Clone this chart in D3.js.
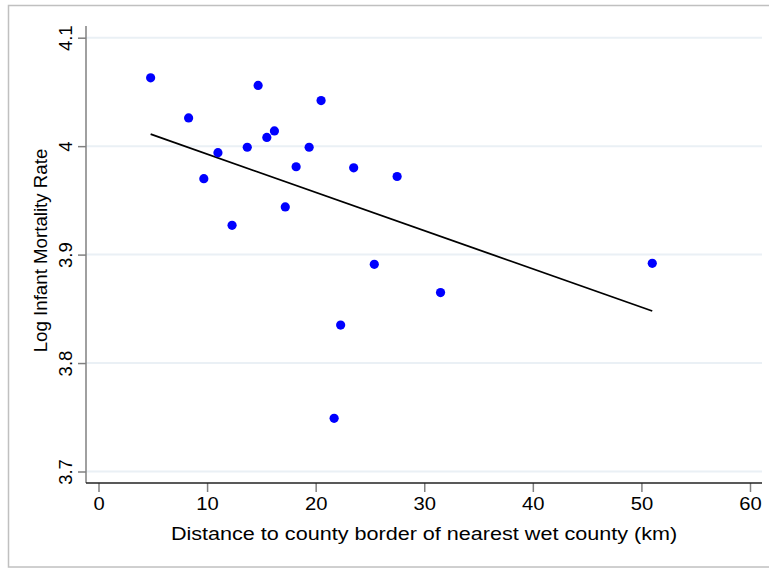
<!DOCTYPE html>
<html><head><meta charset="utf-8">
<script src="https://cdn.jsdelivr.net/npm/d3@7"></script>
<style>html,body{margin:0;padding:0;background:#fff;}svg{display:block;}</style>
</head><body>
<svg id="chart" width="769" height="568"></svg>
<script>
const distKm = [4.8, 8.3, 9.7, 11.0, 12.3, 13.7, 14.7, 15.5, 16.2, 17.2, 18.2, 19.4, 20.5, 21.7, 22.3, 23.5, 25.4, 27.5, 31.5, 51.0];
const logIMR = [4.063, 4.026, 3.970, 3.994, 3.927, 3.999, 4.056, 4.008, 4.014, 3.944, 3.981, 3.999, 4.042, 3.749, 3.835, 3.980, 3.891, 3.972, 3.865, 3.892];
const fitX = [4.8, 51.0];
const fitY = [4.011, 3.848];
const xTicks = [0, 10, 20, 30, 40, 50, 60];
const yTicks = [3.7, 3.8, 3.9, 4.0, 4.1];
const xTitle = "Distance to county border of nearest wet county (km)";
const yTitle = "Log Infant Mortality Rate";

const svg = d3.select("#chart");
const font = "'Liberation Sans', Arial, sans-serif";
const stretch = 1.155;

// outer frame
svg.append("rect").attr("x", 8.5).attr("y", 5.5).attr("width", 800).attr("height", 561.5)
  .attr("fill", "#fff").attr("stroke", "#c0c0c0").attr("stroke-width", 1.5);

const plot = {left: 86, right: 762, top: 26, bottom: 483};
const x = d3.scaleLinear().domain([0, 60]).range([98.5, 750]);
const y = d3.scaleLinear().domain([3.7, 4.1]).range([471.5, 37.7]);

// gridlines
svg.append("g").selectAll("line").data(yTicks).join("line")
  .attr("x1", plot.left).attr("x2", plot.right)
  .attr("y1", d => y(d)).attr("y2", d => y(d))
  .attr("stroke", "#eaf0f5").attr("stroke-width", 2);

// y axis
const yAxis = svg.append("g").attr("transform", `translate(${plot.left},0)`)
  .call(d3.axisLeft(y).tickValues(yTicks).tickSize(8).tickFormat(d => String(+d.toFixed(1))));
yAxis.select(".domain").remove();
yAxis.selectAll(".tick line").attr("stroke", "#808080").attr("stroke-width", 1.5);
yAxis.selectAll(".tick text")
  .attr("font-family", font).attr("font-size", 18.5).attr("fill", "#000")
  .attr("x", null).attr("dy", "0.35em").attr("text-anchor", "middle")
  .attr("transform", "translate(-20,0) rotate(-90)");
svg.append("line").attr("x1", plot.left).attr("x2", plot.left).attr("y1", plot.top).attr("y2", plot.bottom)
  .attr("stroke", "#808080").attr("stroke-width", 1.5);

// x axis
const xAxis = svg.append("g").attr("transform", `translate(0,${plot.bottom})`)
  .call(d3.axisBottom(x).tickValues(xTicks).tickSize(9).tickPadding(6));
xAxis.select(".domain").remove();
xAxis.selectAll(".tick line").attr("stroke", "#808080").attr("stroke-width", 1.5);
xAxis.selectAll(".tick text").attr("font-family", font).attr("font-size", 17.5).attr("fill", "#000")
  .attr("transform", `scale(${stretch},1)`);
svg.append("line").attr("x1", plot.left).attr("x2", plot.right).attr("y1", plot.bottom).attr("y2", plot.bottom)
  .attr("stroke", "#222").attr("stroke-width", 1.5);

// titles
svg.append("g").attr("transform", `translate(${(plot.left + plot.right) / 2},540) scale(${stretch},1)`)
  .append("text").attr("text-anchor", "middle").attr("font-family", font).attr("font-size", 18.7)
  .attr("fill", "#000").text(xTitle);
svg.append("text").attr("transform", `translate(47,${(plot.top + plot.bottom) / 2 - 4}) rotate(-90)`)
  .attr("text-anchor", "middle").attr("font-family", font).attr("font-size", 18.7).attr("fill", "#000").text(yTitle);

// fit line
svg.append("line").attr("x1", x(fitX[0])).attr("y1", y(fitY[0])).attr("x2", x(fitX[1])).attr("y2", y(fitY[1]))
  .attr("stroke", "#000").attr("stroke-width", 1.8);

// points
svg.append("g").selectAll("circle").data(distKm.map((d, i) => [d, logIMR[i]])).join("circle")
  .attr("cx", d => x(d[0])).attr("cy", d => y(d[1])).attr("r", 4.6).attr("fill", "#0000ff");
</script>
</body></html>
